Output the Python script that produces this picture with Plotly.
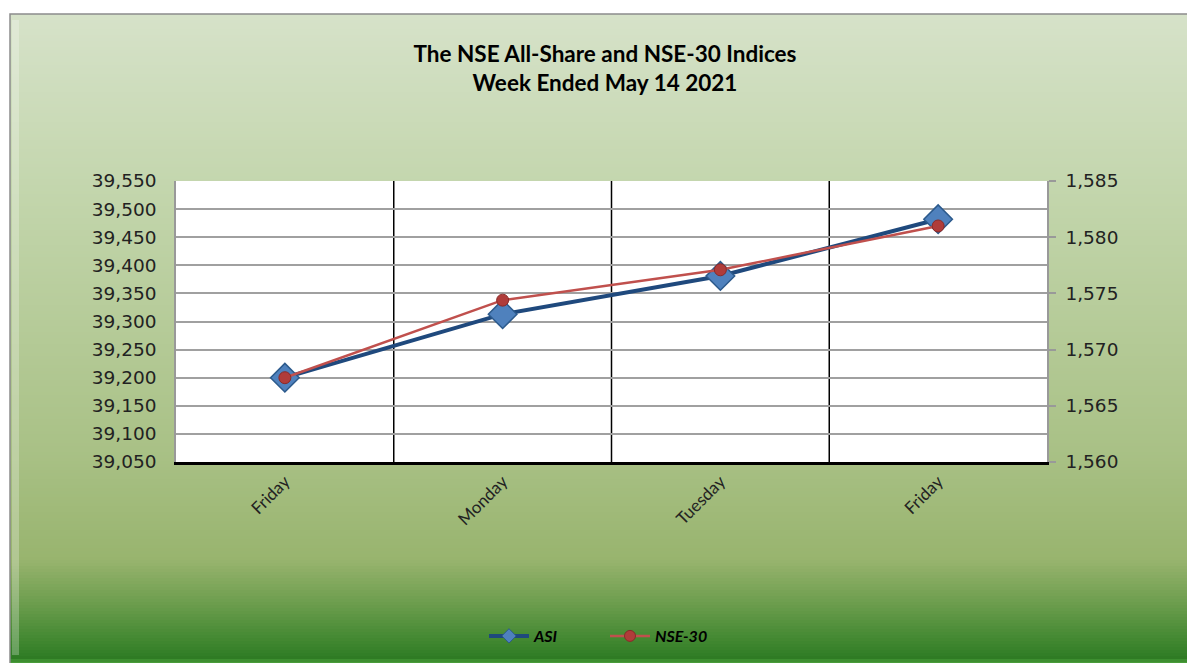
import plotly.graph_objects as go

categories = ["Friday", "Monday", "Tuesday", "Friday"]
asi_values = [39200, 39313, 39381, 39482]
nse30_values = [1567.5, 1574.4, 1577.1, 1581.0]
left_ticks = list(range(39050, 39551, 50))
right_ticks = list(range(1560, 1586, 5))

# page renders figure offset by 8px (body margin); compensate
OFF = 8
W, H = 1195 - OFF, 663 - OFF
ml, mt = 176 - OFF, 181 - OFF
mr = W - (1047 - OFF)
mb = H - (462 - OFF)
pw, ph = W - ml - mr, H - mt - mb

x_idx = list(range(len(categories)))

fig = go.Figure()
fig.add_trace(go.Scatter(
    x=x_idx, y=asi_values, name="ASI", mode="lines+markers",
    line=dict(color="#1f497d", width=4),
    marker=dict(symbol="diamond", size=22, color="#4f81bd",
                line=dict(color="#2c5a8c", width=1.5)),
    yaxis="y", showlegend=False, legendgroup="asi"))
fig.add_trace(go.Scatter(
    x=x_idx, y=nse30_values, name="NSE-30", mode="lines+markers",
    line=dict(color="#c0504d", width=2.5),
    marker=dict(symbol="circle", size=12, color="#b03c3a",
                line=dict(color="#8a2a28", width=1)),
    yaxis="y2", showlegend=False, legendgroup="nse"))
# legend entries (smaller markers as in the reference legend)
fig.add_trace(go.Scatter(
    x=[None], y=[None], name="ASI", mode="lines+markers",
    line=dict(color="#1f497d", width=4),
    marker=dict(symbol="diamond", size=11, color="#4f81bd",
                line=dict(color="#2c5a8c", width=1)),
    legendgroup="asi"))
fig.add_trace(go.Scatter(
    x=[None], y=[None], name="NSE-30", mode="lines+markers", yaxis="y2",
    line=dict(color="#c0504d", width=2.5),
    marker=dict(symbol="circle", size=11, color="#b03c3a",
                line=dict(color="#8a2a28", width=1)),
    legendgroup="nse"))

def px2paper_x(px):
    return (px - OFF - ml) / pw

def px2paper_y(py):
    return (H - mb - (py - OFF)) / ph

stops = [(14, (0xd6, 0xe2, 0xc9)), (200, (0xc2, 0xd5, 0xab)), (450, (0xa9, 0xc1, 0x86)),
         (560, (0x98, 0xb4, 0x6e)), (600, (0x70, 0x9f, 0x50)), (640, (0x42, 0x88, 0x31)),
         (658, (0x2e, 0x7b, 0x24)), (663, (0x4c, 0xa0, 0x3c))]

def col_at(py):
    for (y0, c0), (y1, c1) in zip(stops[:-1], stops[1:]):
        if y0 <= py <= y1:
            t = (py - y0) / (y1 - y0)
            return "rgb(%d,%d,%d)" % tuple(round(a + (b - a) * t) for a, b in zip(c0, c1))
    return "rgb(%d,%d,%d)" % stops[-1][1]

shapes = []
band = 3
y = 14
while y < 663:
    y2 = min(y + band, 663)
    shapes.append(dict(type="rect", xref="paper", yref="paper", layer="below",
                       x0=px2paper_x(10), x1=px2paper_x(1200),
                       y0=px2paper_y(y2 + 0.5), y1=px2paper_y(y),
                       fillcolor=col_at((y + y2) / 2), line=dict(width=0)))
    y = y2
# light bevel on the left edge
shapes.append(dict(type="rect", xref="paper", yref="paper", layer="below",
                   x0=px2paper_x(12), x1=px2paper_x(19),
                   y0=px2paper_y(655), y1=px2paper_y(20),
                   fillcolor="rgba(255,255,255,0.25)", line=dict(width=0)))
# border of chart area
shapes.append(dict(type="rect", xref="paper", yref="paper", layer="below",
                   x0=px2paper_x(10), x1=px2paper_x(1205),
                   y0=px2paper_y(670), y1=px2paper_y(14),
                   fillcolor="rgba(0,0,0,0)", line=dict(color="#8c8c8c", width=1.5)))
# plot area white
shapes.append(dict(type="rect", xref="paper", yref="paper", layer="below",
                   x0=0, x1=1, y0=0, y1=1, fillcolor="white", line=dict(width=0)))
# vertical category separators
for b in [0.5, 1.5, 2.5]:
    shapes.append(dict(type="line", xref="x", yref="paper", x0=b, x1=b, y0=0, y1=1,
                       line=dict(color="black", width=1.5), layer="below"))

tickfont = dict(family="DejaVu Sans, Verdana, sans-serif", size=18.5, color="#222")

fig.update_layout(
    width=W, height=H,
    margin=dict(l=ml, r=mr, t=mt, b=mb),
    paper_bgcolor="white",
    plot_bgcolor="rgba(0,0,0,0)",
    shapes=shapes,
    title=dict(text="<b>The NSE All-Share and NSE-30 Indices<br>Week Ended May 14 2021</b>",
               x=(605 - OFF) / W, xanchor="center", y=1 - (62 - OFF) / H, yanchor="middle",
               font=dict(family="Lato, Open Sans, sans-serif", size=22.5, color="black")),
    xaxis=dict(range=[-0.5, 3.5], tickmode="array", tickvals=x_idx, ticktext=categories,
               tickangle=-45, showgrid=False, zeroline=False,
               showline=True, linecolor="black", linewidth=3, ticks="",
               tickfont=dict(family="Lato, Open Sans, sans-serif", size=17, color="#222")),
    yaxis=dict(range=[39050, 39550], tickmode="array", tickvals=left_ticks,
               ticktext=[f"{v:,}" for v in left_ticks],
               showgrid=True, gridcolor="#a0a0a0", gridwidth=1.5, zeroline=False,
               showline=True, linecolor="#999", linewidth=1.5, ticks="",
               ticklabelstandoff=14, tickfont=tickfont),
    yaxis2=dict(range=[1560, 1585], tickmode="array", tickvals=right_ticks,
                ticktext=[f"{v:,}" for v in right_ticks],
                overlaying="y", side="right", showgrid=False, zeroline=False,
                showline=True, linecolor="#999", linewidth=1.5,
                ticks="outside", ticklen=7, tickcolor="#999", tickwidth=1.5,
                ticklabelstandoff=6, tickfont=tickfont),
    legend=dict(orientation="h", xref="container", yref="container",
                x=(484 - OFF) / W, xanchor="left",
                y=1 - (636 - OFF) / H, yanchor="middle",
                bgcolor="rgba(0,0,0,0)",
                font=dict(family="Lato, Open Sans, sans-serif", size=16, color="black",
                          weight="bold", style="italic"),
                itemwidth=40, entrywidth=66),
    showlegend=True,
)

fig.write_html("out.html")
